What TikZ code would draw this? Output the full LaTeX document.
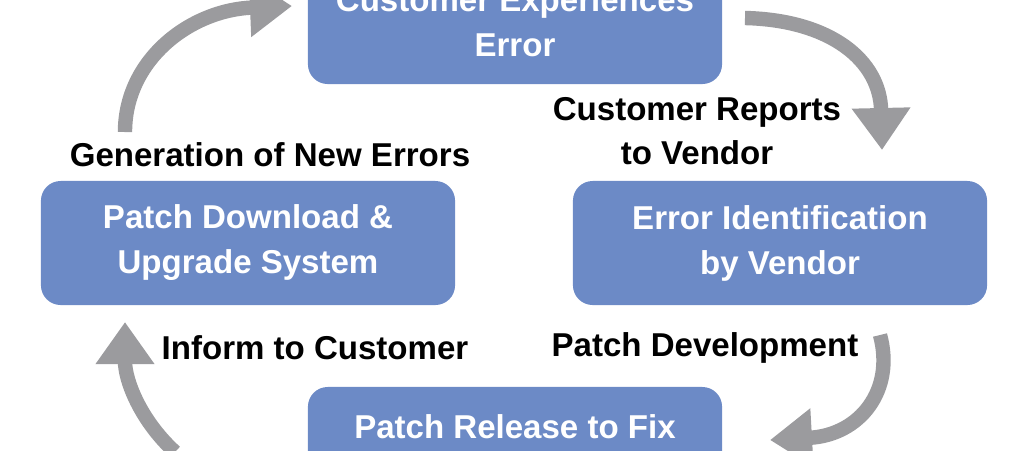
\documentclass[tikz,border=0pt]{standalone}
\usepackage{fontspec}
\setmainfont{Liberation Sans}
\usetikzlibrary{arrows.meta}
\definecolor{boxblue}{RGB}{108,138,198}
\definecolor{arrowgray}{RGB}{155,155,158}
\tikzset{
  stage/.style={draw=none,fill=boxblue,rounded corners=14pt,text=white,
    font=\fontsize{23.5}{32}\selectfont\bfseries,align=center,
    minimum width=10.35cm,minimum height=3.1cm},
  step label/.style={font=\fontsize{23.5}{31}\selectfont\bfseries,align=center},
  cycle arrow/.style={draw=arrowgray,line width=0.36cm,
    -{Triangle[width=1.4cm,length=1.05cm]}}
}
\begin{document}
\begin{tikzpicture}[x=0.025cm,y=-0.025cm]
  \useasboundingbox (0,0) rectangle (1024,450);
  % boxes
  \node[stage] (exp) at (515,22) {Customer Experiences\\Error};
  \node[stage] (ident) at (780,243) {Error Identification\\by Vendor};
  \node[stage] (patch) at (248,243) {Patch Download \&\\Upgrade System};
  \node[stage] (rel) at (515,449) {Patch Release to Fix\\};
  % labels
  \node[step label] (rep) at (697,131) {Customer Reports\\to Vendor};
  \node[step label] (gen) at (270,155) {Generation of New Errors};
  \node[step label] (inf) at (315,348) {Inform to Customer};
  \node[step label] (dev) at (705,348) {Patch Development};
  % arrows
  \coordinate (a1) at (745,18);  \coordinate (b1) at (882,150);
  \coordinate (a2) at (880,335); \coordinate (b2) at (770,440);
  \coordinate (a3) at (175,452); \coordinate (b3) at (125,322);
  \coordinate (a4) at (125,132); \coordinate (b4) at (292,6);
  \draw[cycle arrow] (a1) .. controls (830,20) and (880,60) .. (b1);
  \draw[cycle arrow] (a2) .. controls (895,390) and (860,435) .. (b2);
  \draw[cycle arrow] (a3) .. controls (140,420) and (125,380) .. (b3);
  \draw[cycle arrow] (a4) .. controls (125,60) and (190,10) .. (b4);
\end{tikzpicture}
\end{document}
